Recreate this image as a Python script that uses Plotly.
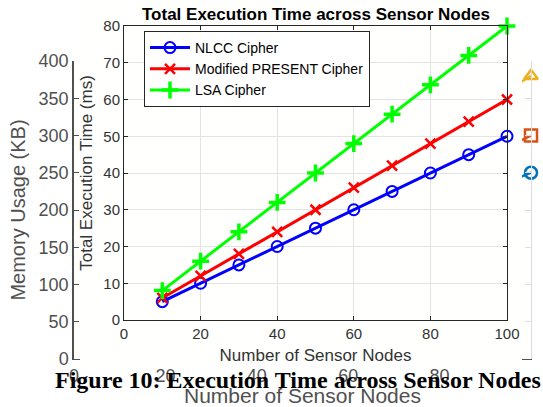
import plotly.graph_objects as go

# ---------------- data ----------------
nodes = [10, 20, 30, 40, 50, 60, 70, 80, 90, 100]
# foreground: total execution time (ms)
nlcc_time = [5, 10, 15, 20, 25, 30, 35, 40, 45, 50]
present_time = [6, 12, 18, 24, 30, 36, 42, 48, 54, 60]
lsa_time = [8, 16, 24, 32, 40, 48, 56, 64, 72, 80]
# background (mostly hidden): memory usage (KB)
mem_a = [25, 50, 75, 100, 125, 150, 175, 200, 225, 250]
mem_b = [30, 60, 90, 120, 150, 180, 210, 240, 270, 300]
mem_c = [38, 76, 114, 152, 190, 228, 266, 304, 342, 380]

x_ticks = [0, 20, 40, 60, 80, 100]
fg_y_ticks = [0, 10, 20, 30, 40, 50, 60, 70, 80]
bg_y_ticks = [0, 50, 100, 150, 200, 250, 300, 350, 400]

W, H = 543, 407
def px(x): return x / W
def py(y): return (H - y) / H

SANS = "Liberation Sans, Arial, sans-serif"
fig = go.Figure()

# ---- background chart (memory usage) ----
bg_styles = [
    (mem_a, "#0072BD", "circle-open"),
    (mem_b, "#D95319", "square-open"),
    (mem_c, "#EDB120", "triangle-up-open"),
]
for vals, col, sym in bg_styles:
    fig.add_trace(go.Scatter(
        x=nodes, y=vals, mode="lines+markers", xaxis="x", yaxis="y",
        line=dict(color=col, width=2.5),
        marker=dict(symbol=sym, size=12, color=col, line=dict(width=2.5, color=col)),
        cliponaxis=False, showlegend=False, hoverinfo="skip"))
# invisible trace for right (light) axis
fig.add_trace(go.Scatter(x=[], y=[], xaxis="x", yaxis="y4", showlegend=False))
# cover (white paper of the foreground figure)
fig.add_trace(go.Scatter(x=[], y=[], xaxis="x2", yaxis="y2", showlegend=False))

# ---- foreground chart (execution time) ----
fg_series = [
    ("NLCC Cipher", nlcc_time, "#0000FF", "circle-open", 11, 2),
    ("Modified PRESENT Cipher", present_time, "#FF0000", "x-thin-open", 10, 2.5),
    ("LSA Cipher", lsa_time, "#00FF00", "cross-thin-open", 12, 3.5),
]
for name, vals, col, sym, sz, lw in fg_series:
    fig.add_trace(go.Scatter(
        x=nodes, y=vals, name=name, mode="lines+markers", xaxis="x3", yaxis="y3",
        line=dict(color=col, width=3),
        marker=dict(symbol=sym, size=sz, color=col, line=dict(width=lw, color=col)),
        cliponaxis=False))

AX_BG = "#505050"
AX_FG = "#262626"

fig.update_layout(
    width=W, height=H,
    margin=dict(l=0, r=0, t=0, b=0, pad=0, autoexpand=False),
    paper_bgcolor="white",
    plot_bgcolor="#fffffe",
    font=dict(family=SANS, color=AX_FG),
    # background axes
    xaxis=dict(domain=[px(74), px(531)], range=[0, 100], anchor="y", automargin=False,
               tickvals=x_ticks, showgrid=False, zeroline=False,
               showline=True, linecolor=AX_BG, ticks="inside", ticklen=5, tickcolor=AX_BG,
               tickfont=dict(size=18, color=AX_BG, family=SANS),
               title=dict(text="Number of Sensor Nodes", font=dict(size=21, color=AX_BG, family=SANS), standoff=2)),
    yaxis=dict(domain=[py(359), py(61)], range=[0, 400], anchor="x", automargin=False,
               tickvals=bg_y_ticks, showgrid=False, zeroline=False,
               showline=True, linecolor=AX_BG, linewidth=1.5, ticks="inside", ticklen=5, tickcolor=AX_BG,
               tickfont=dict(size=18, color=AX_BG, family=SANS),
               title=dict(text="Memory Usage (KB)", font=dict(size=20, color=AX_BG, family=SANS), standoff=8)),
    yaxis4=dict(overlaying="y", side="right", anchor="x", range=[0, 400], automargin=False,
                tickvals=bg_y_ticks, showgrid=False, zeroline=False,
                showline=True, linecolor="#dcdcdc", ticks="inside", ticklen=6, tickcolor="#dcdcdc",
                showticklabels=False),
    # cover axes
    xaxis2=dict(domain=[px(80), px(522)], anchor="y2", visible=False, range=[0, 1], automargin=False),
    yaxis2=dict(domain=[py(364), 1.0], anchor="x2", visible=False, range=[0, 1], automargin=False),
    # foreground axes
    xaxis3=dict(domain=[px(124), px(507)], range=[0, 100], anchor="y3", automargin=False,
                tickvals=x_ticks, showgrid=True, gridcolor="#e3e3e3", zeroline=False,
                showline=True, linecolor=AX_FG, mirror="ticks", ticks="inside", ticklen=4, tickcolor=AX_FG,
                tickfont=dict(size=15, color="#333333", family=SANS),
                title=dict(text="Number of Sensor Nodes", font=dict(size=17, color="#333333", family=SANS), standoff=8)),
    yaxis3=dict(domain=[py(320), py(26)], range=[0, 80], anchor="x3", automargin=False,
                tickvals=fg_y_ticks, showgrid=True, gridcolor="#e3e3e3", zeroline=False,
                showline=True, linecolor=AX_FG, mirror="ticks", ticks="inside", ticklen=4, tickcolor=AX_FG,
                tickfont=dict(size=15, color="#333333", family=SANS),
                title=dict(text="Total Execution Time (ms)", font=dict(size=17, color="#333333", family=SANS), standoff=6)),
    title=dict(text="<b>Total Execution Time across Sensor Nodes</b>",
               x=px(316), xanchor="center", y=py(14), yanchor="middle", automargin=False,
               font=dict(size=17, color="black", family=SANS)),
    legend=dict(x=px(144), y=py(31), xanchor="left", yanchor="top",
                bgcolor="white", bordercolor=AX_FG, borderwidth=1,
                font=dict(size=14, color="black", family=SANS),
                tracegroupgap=0, itemwidth=40),
    showlegend=True,
    annotations=[dict(
        text="<b>Figure 10: Execution Time across Sensor Nodes</b>",
        x=px(298), y=py(380), xref="paper", yref="paper",
        xanchor="center", yanchor="middle", showarrow=False,
        font=dict(size=24, color="black", family="Liberation Serif, Times New Roman, serif"))],
)

fig.write_html("out.html", config={"displayModeBar": False},
               post_script="document.body.style.margin='0px';")
